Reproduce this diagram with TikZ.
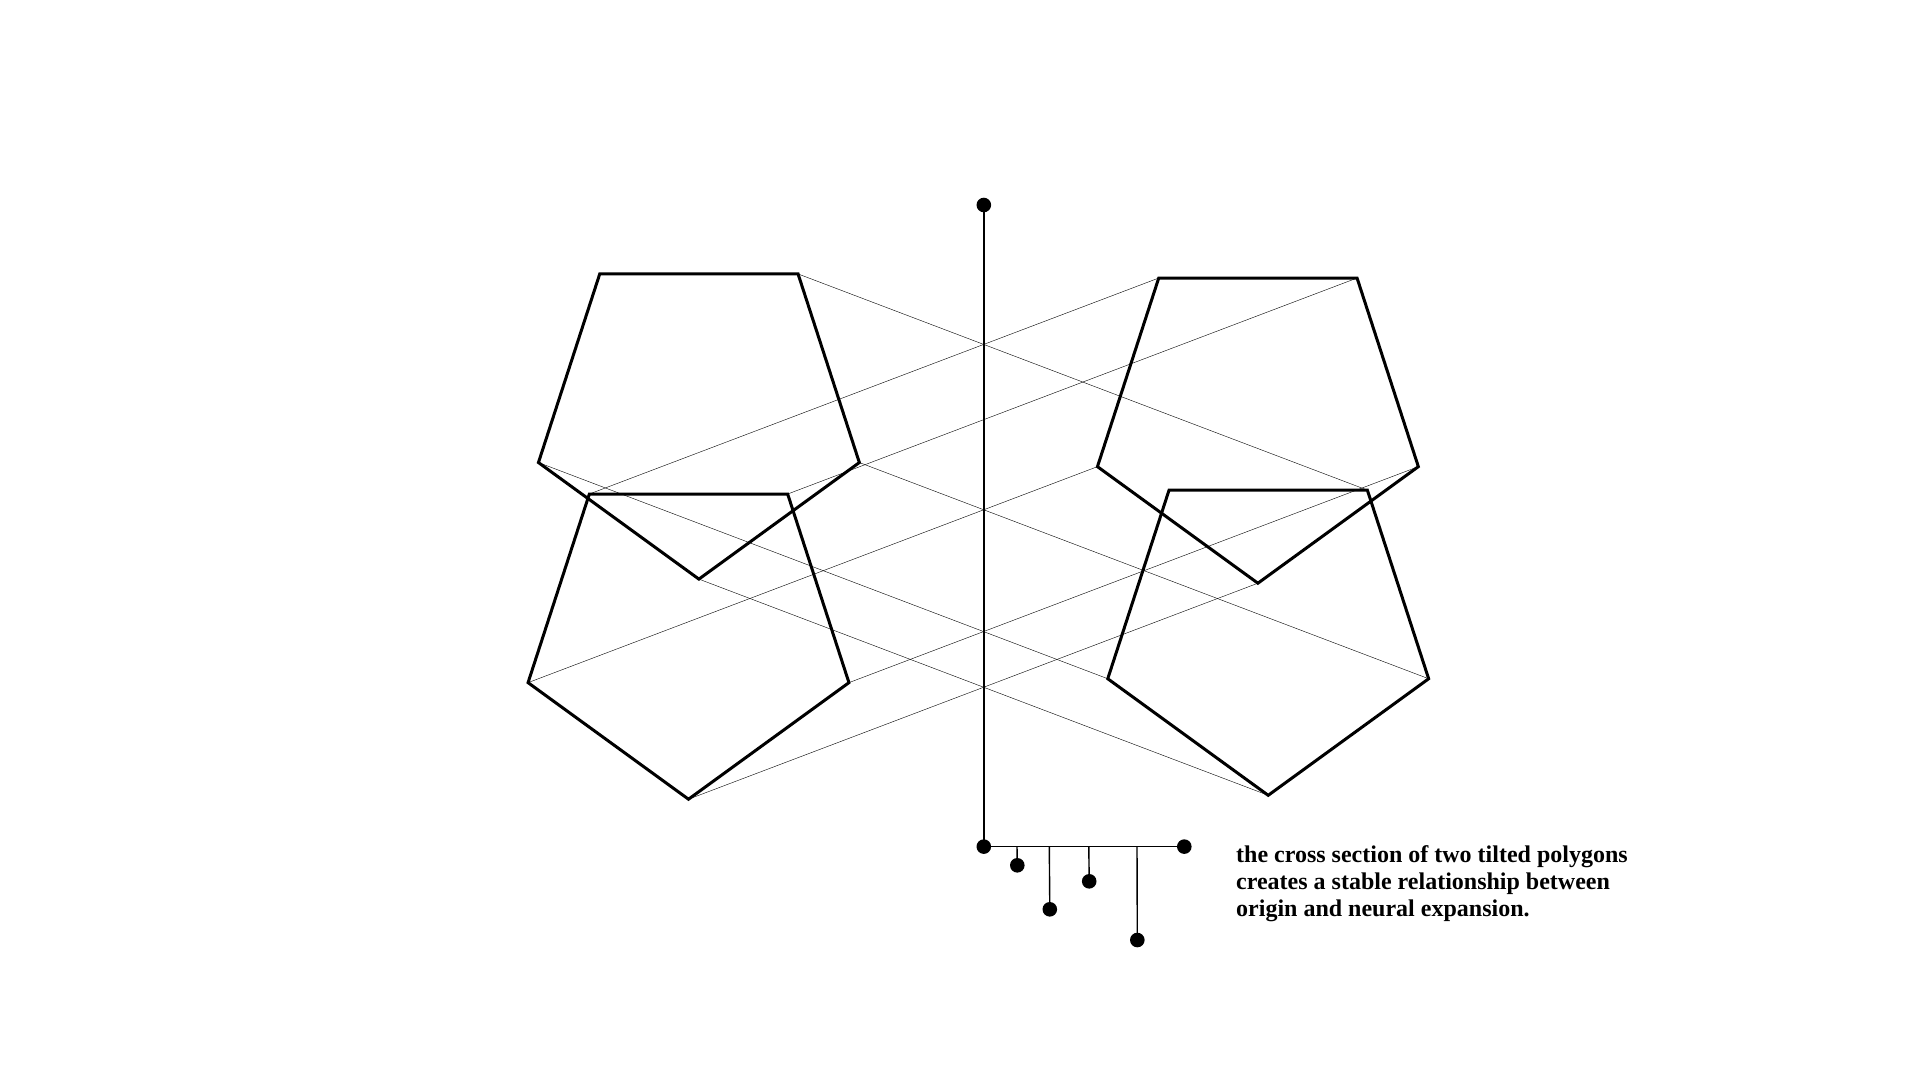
\documentclass[tikz,border=0pt]{standalone}
\usepackage{fontspec}
\setmainfont{Liberation Serif}
\usetikzlibrary{calc}
\definecolor{thin}{RGB}{62,62,62}
\tikzset{
  thickline/.style={line width=3pt, black, line join=miter},
  thinline/.style={line width=1.3pt, thin},
  axisline/.style={line width=1.4pt, black},
  dot/.style={circle, fill=black, inner sep=0pt, minimum size=14.6pt},
  caption/.style={font=\fontsize{24}{27.3}\selectfont\bfseries, align=left, inner sep=0pt, anchor=base west}
}
\begin{document}
\begin{tikzpicture}[x=1pt,y=-1pt]
\useasboundingbox (0,0) rectangle (1920,1080);
% pentagon centres
\coordinate (Ac) at (698.9,410.4);
\coordinate (Bc) at (688.5,630.5);
\coordinate (Cc) at (1257.9,414.5);
\coordinate (Dc) at (1268.2,626.6);
\def\R{168.7}
\foreach \P in {A,B,C,D}{
  \coordinate (\P b)  at ($(\P c)+(90:\R)$);
  \coordinate (\P r)  at ($(\P c)+(18:\R)$);
  \coordinate (\P tr) at ($(\P c)+(306:\R)$);
  \coordinate (\P tl) at ($(\P c)+(234:\R)$);
  \coordinate (\P l)  at ($(\P c)+(162:\R)$);
}
% thin connectors
\draw[thinline] (Atr) -- (Dtr);
\draw[thinline] (Ar) -- (Dr);
\draw[thinline] (Ab) -- (Db);
\draw[thinline] (Al) -- (Dl);
\draw[thinline] (Ctl) -- (Btl);
\draw[thinline] (Ctr) -- (Btr);
\draw[thinline] (Cl) -- (Bl);
\draw[thinline] (Cr) -- (Br);
\draw[thinline] (Cb) -- (Bb);
% pentagons
\foreach \P in {A,B,C,D}{
  \draw[thickline] (\P b) -- (\P r) -- (\P tr) -- (\P tl) -- (\P l) -- cycle;
}
% axis
\node[dot] (top) at (983.8,205) {};
\node[dot] (orig) at (983.8,846.6) {};
\draw[axisline] (top.center) -- (orig.center);
% comb
\node[dot] (end) at (1184.3,846.6) {};
\draw[axisline] (orig.center) -- (end.center);
\coordinate (t1) at (1017,846.6);
\coordinate (t2) at (1049.3,846.6);
\coordinate (t3) at (1088.8,846.6);
\coordinate (t4) at (1137,846.6);
\node[dot] (d1) at (1017.3,865.3) {};
\node[dot] (d2) at (1049.8,909.3) {};
\node[dot] (d3) at (1089.2,881.3) {};
\node[dot] (d4) at (1137.3,940) {};
\draw[axisline] (t1) -- (d1.center);
\draw[axisline] (t2) -- (d2.center);
\draw[axisline] (t3) -- (d3.center);
\draw[axisline] (t4) -- (d4.center);
% caption (anchor = baseline of last line)
\node[caption] (cap) at (1236,916.6) {the cross section of two tilted polygons\\creates a stable relationship between\\origin and neural expansion.};
\end{tikzpicture}
\end{document}
